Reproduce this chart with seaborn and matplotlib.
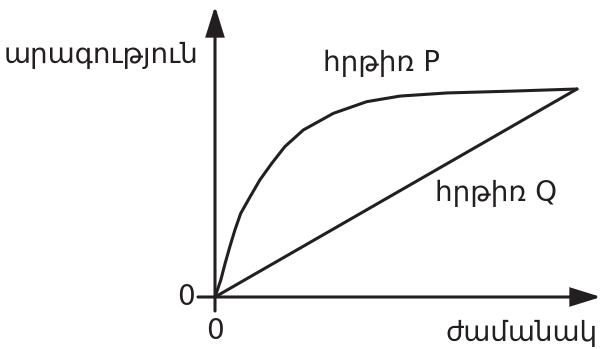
import numpy as np
import pandas as pd
import matplotlib
matplotlib.use("Agg")
import matplotlib.pyplot as plt
import seaborn as sns
from matplotlib.patches import FancyArrowPatch

# ---- data (time and speed in arbitrary units 0..10) ----
time_p = [0, 0.16, 0.28, 0.41, 0.55, 0.71, 0.97, 1.24, 1.57, 1.93, 2.44, 3.27, 4.19, 5.11, 6.41, 8.23, 10.0]
speed_p = [0, 0.82, 1.62, 2.42, 3.22, 4.02, 4.82, 5.63, 6.43, 7.23, 8.03, 8.83, 9.39, 9.66, 9.81, 9.90, 10.0]
time_q = [0, 10.0]
speed_q = [0, 10.0]
label_p = "հրթիռ P"
label_q = "հրթիռ Q"
y_label = "արագություն"
x_label = "ժամանակ"
tick_zero = "0"

W, H = 602, 349
sns.set_theme(style="white")
plt.rcParams["font.family"] = ["DejaVu Sans"]

fig = plt.figure(figsize=(W / 100, H / 100), dpi=100)
ax = fig.add_axes([0, 0, 1, 1])

# pixel mapping: origin at (215, 297), point (10,10) at (577, 89)
X0, Y0 = 215.0, 297.0
SX = (577.0 - X0) / 10.0
SY = (Y0 - 89.0) / 10.0
ax.set_xlim(-X0 / SX, (W - X0) / SX)
ax.set_ylim(-(H - Y0) / SY, Y0 / SY)
ax.set_axis_off()

def px(x, y):
    return ((x - X0) / SX, (Y0 - y) / SY)

ink = "#231f20"
df = pd.concat([
    pd.DataFrame({"t": time_p, "v": speed_p, "r": label_p}),
    pd.DataFrame({"t": time_q, "v": speed_q, "r": label_q}),
])
sns.lineplot(data=df, x="t", y="v", units="r", estimator=None, sort=False,
             color=ink, lw=2.2, ax=ax, legend=False)
for line in ax.lines:
    line.set_solid_joinstyle("round")

# axes with arrows
for start, end in [(px(198, 297), px(601, 297)), (px(215, 311), px(215, 6))]:
    arr = FancyArrowPatch(start, end, arrowstyle="-|>,head_length=0.9,head_width=0.28",
                          mutation_scale=20, lw=2.2, color=ink, shrinkA=0, shrinkB=0,
                          joinstyle="miter")
    ax.add_patch(arr)

fs = 20
ax.text(*px(4, 55), y_label, fontsize=fs, ha="left", va="center", color=ink)
ax.text(*px(323, 63), label_p, fontsize=fs, ha="left", va="center", color=ink)
ax.text(*px(435, 193), label_q, fontsize=fs, ha="left", va="center", color=ink)
ax.text(*px(598, 333), x_label, fontsize=fs, ha="right", va="center", color=ink)
ax.text(*px(186, 297), tick_zero, fontsize=fs, ha="center", va="center", color=ink)
ax.text(*px(215, 331), tick_zero, fontsize=fs, ha="center", va="center", color=ink)

fig.savefig("out.png", dpi=100, facecolor="white")
